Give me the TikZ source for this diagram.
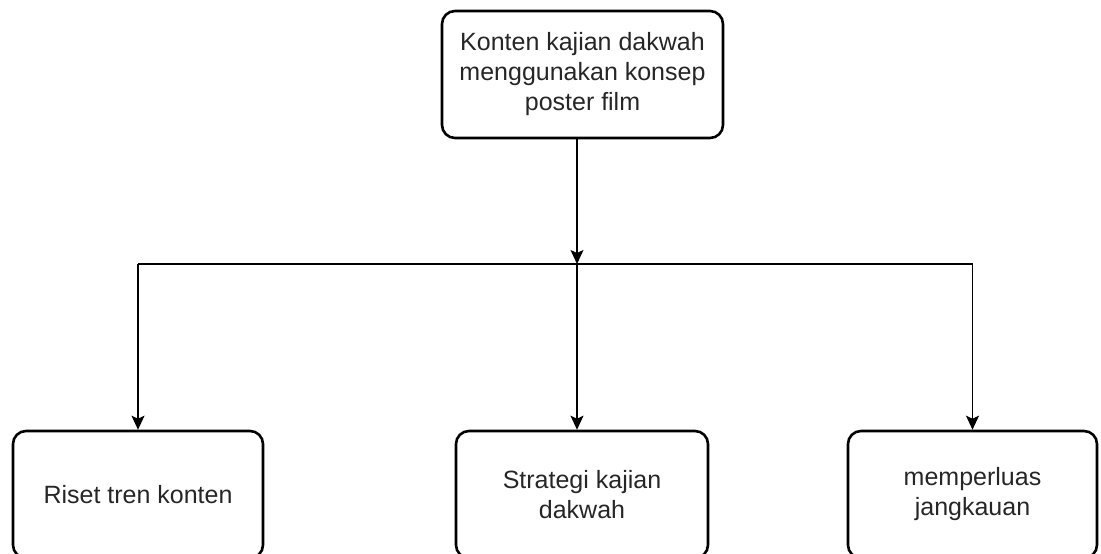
\documentclass[tikz,border=0pt]{standalone}
\usepackage{fontspec}
\setmainfont{Liberation Sans}
\usetikzlibrary{arrows.meta}

\begin{document}
\begin{tikzpicture}[x=1pt, y=-1pt,
    box/.style={draw, line width=2.6pt, rounded corners=13pt,
        minimum height=127pt, align=center, text=black!85,
        font=\fontsize{25}{30}\selectfont, inner sep=0pt},
    link/.style={line width=1.4pt},
    arrow/.style={link, -{Stealth[length=14pt, width=13pt, inset=3pt]}}]
    \useasboundingbox (0,0) rectangle (1101,554);

    % Top box
    \node[box, minimum width=281pt] (konten) at (582.5,74.5)
        {Konten kajian dakwah\\menggunakan konsep\\poster film};

    % Bottom boxes
    \node[box, minimum width=250pt] (riset) at (138,494.5) {Riset tren konten};
    \node[box, minimum width=252pt] (strategi) at (582,494.5) {Strategi kajian\\dakwah};
    \node[box, minimum width=249pt] (jangkauan) at (972.5,494.5) {memperluas\\jangkauan};

    % Split point
    \coordinate (split) at (577,264);

    % Connectors
    \draw[arrow] (konten.south -| split) -- (split);
    \draw[link] (split -| riset.north) -- (split -| jangkauan.north);
    \draw[arrow] (split -| riset.north) -- (riset.north);
    \draw[arrow] (split) -- (split |- strategi.north);
    \draw[arrow] (split -| jangkauan.north) -- (jangkauan.north);

\end{tikzpicture}
\end{document}
